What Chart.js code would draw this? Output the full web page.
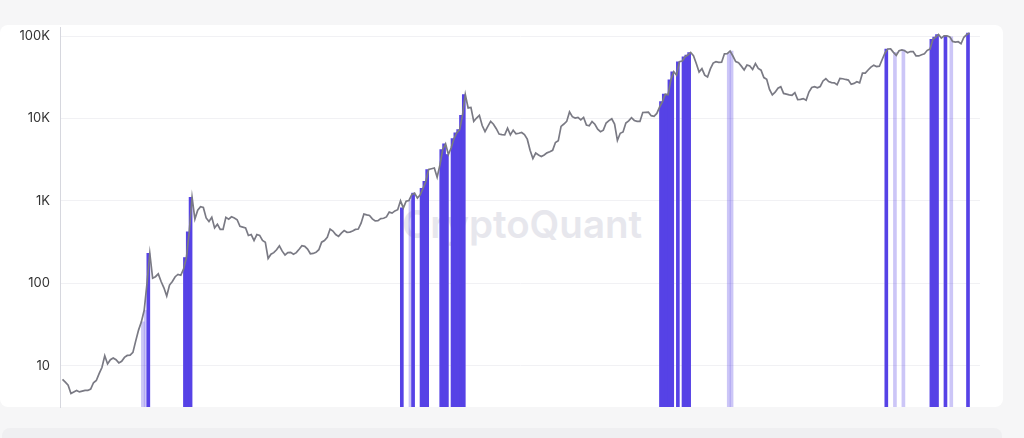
<!DOCTYPE html>
<html>
<head>
<meta charset="utf-8">
<script src="https://cdn.jsdelivr.net/npm/chart.js@4.4.1/dist/chart.umd.min.js"></script>
<style>
  html, body { margin: 0; padding: 0; width: 1024px; height: 438px; overflow: hidden; background: #f6f6f7; }
  #card { position: absolute; left: 0; top: 25px; width: 1003px; height: 382px; background: #ffffff; border-radius: 8px; }
  #card2 { position: absolute; left: 2px; top: 428px; width: 1000px; height: 40px; background: #efeff1; border-radius: 8px; }
  #wm { position: absolute; left: 402px; top: 201px; font-family: Inter, "Noto Sans", sans-serif; font-weight: 600; font-size: 38.5px; color: #e7e7ed; white-space: nowrap; }
  #wrap { position: absolute; left: 0; top: 0; width: 1024px; height: 438px; }
</style>
</head>
<body>
<div id="card"></div>
<div id="card2"></div>
<div id="wm">CryptoQuant</div>
<div id="wrap"><canvas id="c" width="1024" height="438"></canvas></div>
<script>
// Price, semi-monthly (1st and 15th of each month), USD
const price2012 = [6.8, 6.3, 5.8, 4.6, 4.8, 5.0, 4.8, 4.9, 5.0, 5.0, 5.2, 6.2, 6.6, 8.0, 9.5, 13.2, 10.5, 11.8, 12.4, 11.8, 10.8, 11.3, 12.6, 13.3];
const price2013 = [13.4, 14.5, 20, 27, 34, 47, 100, 230, 115, 120, 130, 105, 88, 70, 95, 105, 120, 128, 125, 150, 205, 420, 1100, 600];
const price2014 = [770, 850, 830, 620, 560, 630, 470, 520, 450, 450, 630, 600, 640, 620, 590, 490, 480, 470, 380, 390, 330, 390, 380, 330];
const price2015 = [315, 200, 225, 235, 255, 285, 245, 220, 235, 237, 225, 235, 258, 285, 280, 260, 228, 230, 237, 255, 315, 330, 360, 455];
const price2016 = [430, 390, 370, 405, 435, 415, 417, 430, 450, 455, 535, 690, 675, 665, 605, 570, 575, 608, 615, 638, 730, 710, 755, 780];
const price2017 = [1000, 820, 990, 1010, 1190, 1240, 1080, 1180, 1420, 1730, 2400, 2450, 2500, 1930, 2730, 4200, 4900, 3650, 4400, 5700, 6700, 7300, 10900, 19500];
const price2018 = [13400, 13600, 9200, 10100, 10900, 8200, 6900, 8000, 9200, 8500, 7500, 6450, 6350, 6300, 7600, 6300, 7200, 6500, 6600, 6750, 6350, 5600, 4100, 3250];
const price2019 = [3800, 3600, 3450, 3600, 3820, 3930, 4100, 5100, 5350, 8000, 8550, 9200, 12000, 10500, 10100, 10300, 9600, 10300, 8300, 8150, 9150, 8500, 7400, 6900];
const price2020 = [7200, 8800, 9400, 9900, 8550, 5400, 6600, 6850, 8800, 9350, 10200, 9450, 9230, 9200, 11800, 11850, 11900, 10800, 10600, 11500, 13800, 16000, 19700, 19400];
const price2021 = [29400, 36800, 33500, 48700, 49600, 56000, 58800, 63100, 57700, 46500, 36600, 40200, 33500, 31800, 39900, 47000, 48800, 48000, 48100, 60800, 61000, 65500, 57200, 48900];
const price2022 = [47300, 43100, 38700, 44500, 43200, 39300, 46300, 40500, 38500, 31300, 29800, 22500, 19300, 20800, 23300, 24300, 20100, 19700, 19300, 19100, 20500, 16900, 17000, 17400];
const price2023 = [16600, 20900, 23700, 24300, 23500, 24400, 28500, 30300, 28000, 27200, 27000, 25600, 30600, 30300, 29700, 29200, 25900, 26600, 27900, 27000, 35400, 35500, 38700, 42000];
const price2024 = [44200, 42500, 43000, 51900, 62400, 69500, 69700, 63400, 58300, 66200, 67800, 66200, 62700, 64800, 64600, 57500, 57300, 59200, 60800, 67000, 69500, 91000, 97200, 104400];
const price2025 = [94400, 100500, 100600, 97500, 86000, 84300, 85200, 80500, 96500, 103700, 108500];

// Signal dates (strong = dark bars, weak = light bars)
const strongSignals = [
  "2013-04-15", "2013-11-01", "2013-11-15", "2013-12-01",
  "2017-01-15", "2017-03-15", "2017-05-01", "2017-05-15", "2017-06-01",
  "2017-08-15", "2017-09-01", "2017-09-15",
  "2017-10-15", "2017-11-01", "2017-11-15", "2017-12-01", "2017-12-15",
  "2020-11-15", "2020-12-01", "2020-12-15", "2021-01-01", "2021-01-15",
  "2021-02-15", "2021-03-15", "2021-04-01", "2021-04-15",
  "2024-03-15", "2024-11-15", "2024-12-01", "2024-12-15", "2025-02-01", "2025-06-01"
];
const weakSignals = [
  "2013-03-01", "2013-03-15",
  "2017-02-15", "2017-08-01",
  "2021-11-01", "2021-11-15",
  "2024-04-15", "2024-06-01", "2025-02-15"
];

const tickValues = [10, 100, 1000, 10000, 100000];
const tickLabels = ["10", "100", "1K", "10K", "100K"];

const START_YEAR = 2012;
const Y_MIN = 3.15, Y_MAX = 128600;

const priceYears = [price2012, price2013, price2014, price2015, price2016, price2017, price2018, price2019, price2020, price2021, price2022, price2023, price2024, price2025];
const prices = [].concat(...priceYears);
const linePoints = prices.map((v, i) => ({ x: START_YEAR + i / 24, y: v }));

function dateIndex(s) {
  const [Y, M, D] = s.split('-').map(Number);
  return (Y - START_YEAR) * 24 + (M - 1) * 2 + (D >= 15 ? 1 : 0);
}
function barPoints(list) {
  return list.map(s => { const i = dateIndex(s); return { x: START_YEAR + i / 24, y: prices[i] }; });
}

const BAR = 'rgba(86, 66, 230, 1)';
const BAR_LIGHT = 'rgba(86, 66, 230, 0.3)';

new Chart(document.getElementById('c'), {
  type: 'line',
  data: {
    datasets: [
      {
        type: 'line', label: 'Price', data: linePoints,
        borderColor: '#7a7a84', borderWidth: 1.7, pointRadius: 0, tension: 0, fill: false, order: 0
      },
      {
        type: 'bar', label: 'Signal', data: barPoints(strongSignals),
        backgroundColor: BAR, borderWidth: 0, barThickness: 3, base: Y_MIN, order: 1
      },
      {
        type: 'bar', label: 'Weak signal', data: barPoints(weakSignals),
        backgroundColor: BAR_LIGHT, borderWidth: 0, barThickness: 3, base: Y_MIN, order: 2
      }
    ]
  },
  options: {
    responsive: false,
    animation: false,
    events: [],
    layout: { padding: { top: 27, bottom: 31, left: 0, right: 44 } },
    plugins: { legend: { display: false }, tooltip: { enabled: false } },
    scales: {
      x: {
        type: 'linear', display: false, offset: false,
        min: 2011.963, max: 2025.572
      },
      y: {
        type: 'logarithmic', min: Y_MIN, max: Y_MAX, bounds: 'data',
        afterBuildTicks: (s) => { s.ticks = tickValues.map(v => ({ value: v })); },
        afterFit: (s) => { s.width = 60; },
        ticks: {
          padding: 10, color: '#333333',
          font: { family: 'Inter, "Liberation Sans", sans-serif', size: 13 },
          callback: (v) => { const k = tickValues.indexOf(v); return k >= 0 ? tickLabels[k] : ''; }
        },
        grid: { color: '#f1f1f4', drawTicks: false },
        border: { color: '#d6d7de', width: 1 }
      }
    }
  }
});
</script>
</body>
</html>
